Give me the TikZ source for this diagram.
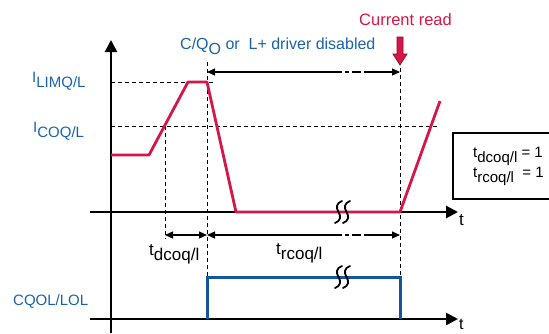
\documentclass[tikz,border=0pt]{standalone}
\usepackage{fontspec}
\setmainfont{Liberation Sans}
\usetikzlibrary{arrows.meta}
\definecolor{sigred}{RGB}{212,22,72}
\definecolor{darkred}{RGB}{140,10,40}
\definecolor{sigblue}{RGB}{18,86,156}
\definecolor{txtblue}{RGB}{28,100,170}
\newcommand\lowsub[1]{\raisebox{-5pt}{#1}}
\begin{document}
\begin{tikzpicture}[x=1pt,y=-1pt,
  axis/.style={line width=2.6pt,-{Triangle[length=12pt,width=12pt]}},
  guide/.style={line width=1pt,dash pattern=on 4pt off 3pt},
  trace/.style={sigred,line width=2.8pt,line join=round},
  bluetrace/.style={sigblue,line width=3pt,line join=miter},
  dimline/.style={line width=1.2pt},
  dimtip/.style={{Triangle[length=8pt,width=7pt]}-{Triangle[length=8pt,width=7pt]}},
  brk/.style={line width=1.8pt},
  lbl/.style={inner sep=0pt,anchor=base west,font=\fontsize{15}{18}\selectfont},
  tlbl/.style={lbl,font=\fontsize{17}{20}\selectfont},
  bluelbl/.style={lbl,text=txtblue}
]
\clip (0,0) rectangle (549,333);
\fill[white] (0,0) rectangle (549,333);

% coordinates
\coordinate (ybot) at (111,333);
\coordinate (ytop) at (111,40);
\coordinate (x1s) at (90,212);
\coordinate (x1e) at (458,212);
\coordinate (x2s) at (90,319);
\coordinate (x2e) at (458,319);

\coordinate (r0) at (111,155);
\coordinate (r1) at (149,155);
\coordinate (r2) at (188,82);
\coordinate (r3) at (207,82);
\coordinate (r4) at (236,212);
\coordinate (r5) at (400,212);
\coordinate (r6) at (440,101);

\coordinate (limL) at (111,82);
\coordinate (limR) at (215,82);
\coordinate (coqL) at (111,126);
\coordinate (coqR) at (437,126);

\coordinate (va1) at (165,126);
\coordinate (vb1) at (165,239);
\coordinate (va2) at (207,62);
\coordinate (vb2) at (207,319);
\coordinate (va3) at (400,68);
\coordinate (vb3) at (400,319);

\coordinate (ta) at (207,72);
\coordinate (tm1) at (333,72);
\coordinate (tm2) at (366,72);
\coordinate (tb) at (400,72);

\coordinate (da) at (165,235);
\coordinate (db) at (207,235);
\coordinate (dm1) at (333,235);
\coordinate (dm2) at (366,235);
\coordinate (dc) at (400,235);

\coordinate (b0) at (207,319);
\coordinate (b1) at (207,277);
\coordinate (b2) at (400,277);
\coordinate (b3) at (400,319);

% guides
\draw[guide] (limL) -- (limR);
\draw[guide] (coqL) -- (coqR);
\draw[guide] (va1) -- (vb1);
\draw[guide] (va2) -- (vb2);
\draw[guide] (va3) -- (vb3);

% axes
\draw[axis] (ybot) -- (ytop);
\draw[axis] (x1s) -- (x1e);
\draw[axis] (x2s) -- (x2e);

% red trace
\draw[trace] (r0) -- (r1) -- (r2) -- (r3) -- (r4) -- (r5) -- (r6);

% blue trace
\draw[bluetrace] (b0) -- (b1) -- (b2) -- (b3);

% dimension arrows
\draw[dimline,{Triangle[length=8pt,width=7pt]}-] (ta) -- (tm1);
\draw[dimline,dash pattern=on 9pt off 3pt on 4pt off 3pt] (tm1) -- (tm2);
\draw[dimline,-{Triangle[length=8pt,width=7pt]}] (tm2) -- (tb);

\draw[dimline,dimtip] (da) -- (db);
\draw[dimline,{Triangle[length=8pt,width=7pt]}-] (db) -- (dm1);
\draw[dimline,dash pattern=on 9pt off 3pt on 4pt off 3pt] (dm1) -- (dm2);
\draw[dimline,-{Triangle[length=8pt,width=7pt]}] (dm2) -- (dc);

% break marks
\foreach \yy in {212,277}{
  \foreach \xx in {0,8}{
    \draw[brk,line cap=round] (342+\xx,\yy-11) .. controls (336+\xx,\yy-9) and (336+\xx,\yy-4) .. (338.5+\xx,\yy)
      .. controls (341+\xx,\yy+4) and (341+\xx,\yy+9) .. (335+\xx,\yy+11);
  }
}

% current read arrow
\draw[darkred,fill=sigred,line width=0.7pt]
  (397,37) -- (403,37) -- (403,54) -- (407,54) -- (400,65) -- (393,54) -- (397,54) -- cycle;

% box
\draw[line width=1.3pt] (453,133) rectangle (560,199);

% labels
\node[lbl,text=sigred,font=\fontsize{16.5}{19}\selectfont] (curread) at (359,25) {Current read};
\node[bluelbl,font=\fontsize{16}{19}\selectfont] (disabled) at (180,49) {C/Q\lowsub{O} or \ L+ driver disabled};
\node[bluelbl] (ilim) at (32,82) {I\lowsub{LIMQ/L}};
\node[bluelbl] (icoq) at (33,132) {I\lowsub{COQ/L}};
\node[bluelbl] (cqol) at (13,305) {CQOL/LOL};
\node[tlbl] (tdl) at (149,255) {t\lowsub{dcoq/l}};
\node[tlbl] (trl) at (276,254) {t\lowsub{rcoq/l}};
\node[lbl] (bx1) at (473,157) {t\lowsub{dcoq/l} = 1};
\node[lbl] (bx2) at (473,177) {t\lowsub{rcoq/l} \ = 1};
\node[tlbl] (t1) at (459,225) {t};
\node[tlbl,font=\fontsize{16}{18}\selectfont] (t2) at (459,329) {t};
\end{tikzpicture}
\end{document}
